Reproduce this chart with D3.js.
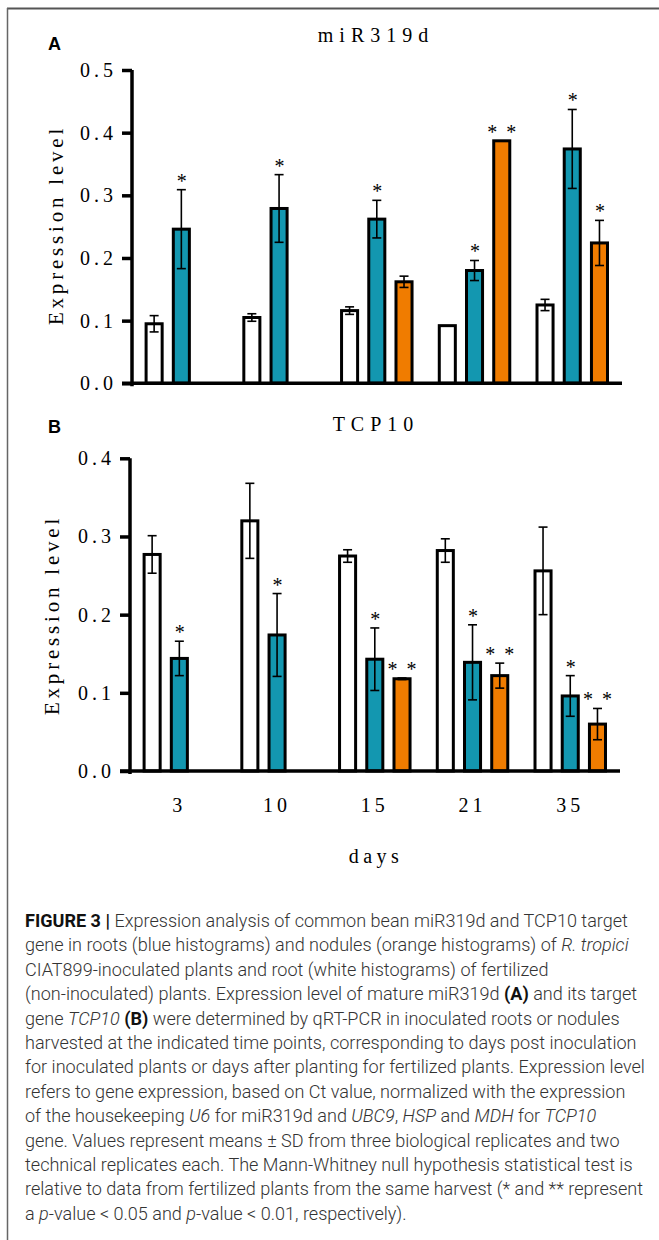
<!DOCTYPE html>
<html>
<head>
<meta charset="utf-8">
<script src="https://cdn.jsdelivr.net/npm/d3@7"></script>
<style>
  body { margin: 0; background: #fff; }
  svg { display: block; }
</style>
</head>
<body>
<div id="figure"></div>
<script>
// Values (means and SD per harvest day)

const days = ['3', '10', '15', '21', '35'];
const groups = ['fertilized', 'root', 'nodule'];

// panel A: miR319d
const mirFert = [0.095, 0.105, 0.116, 0.092, 0.125];
const mirFertSd = [0.013, 0.006, 0.006, 0, 0.009];
const mirRoot = [0.246, 0.279, 0.262, 0.180, 0.374];
const mirRootSd = [0.063, 0.054, 0.030, 0.016, 0.063];
const mirNod = [null, null, 0.162, 0.387, 0.224];
const mirNodSd = [null, null, 0.009, 0, 0.036];
const mirRootStars = ['*', '*', '*', '*', '*'];
const mirNodStars = ['', '', '', '* *', '*'];
const mirTicks = [0, 0.1, 0.2, 0.3, 0.4, 0.5];

// panel B: TCP10
const tcpFert = [0.277, 0.320, 0.275, 0.282, 0.256];
const tcpFertSd = [0.024, 0.048, 0.008, 0.015, 0.056];
const tcpRoot = [0.144, 0.174, 0.143, 0.139, 0.096];
const tcpRootSd = [0.022, 0.053, 0.040, 0.048, 0.026];
const tcpNod = [null, null, 0.118, 0.122, 0.060];
const tcpNodSd = [null, null, 0.001, 0.016, 0.020];
const tcpRootStars = ['*', '*', '*', '*', '*'];
const tcpNodStars = ['', '', '* *', '* *', '* *'];
const tcpTicks = [0, 0.1, 0.2, 0.3, 0.4];

const colors = { fertilized: '#ffffff', root: '#1397b0', nodule: '#f07c00' };
const serif = '"Liberation Serif", "Times New Roman", serif';

let width = 659;
let height = 1240;

const svg = d3.select('#figure')
  .append('svg')
  .attr('width', width)
  .attr('height', height)

// frame lines (top and left only, like the cropped page)
svg.append('line').attr('x1', 7).attr('x2', width).attr('y1', 8.5).attr('y2', 8.5)
  .attr('stroke', '#555').attr('stroke-width', 2)
svg.append('line').attr('x1', 7.5).attr('x2', 7.5).attr('y1', 8).attr('y2', height)
  .attr('stroke', '#666').attr('stroke-width', 1.5)

function rows(fert, fertSd, root, rootSd, nod, nodSd, rootStars, nodStars) {
  const out = [];
  days.forEach((d, i) => {
    out.push({ day: d, group: 'fertilized', value: fert[i], sd: fertSd[i], star: '' });
    out.push({ day: d, group: 'root', value: root[i], sd: rootSd[i], star: rootStars[i] });
    if (nod[i] !== null) {
      out.push({ day: d, group: 'nodule', value: nod[i], sd: nodSd[i], star: nodStars[i] });
    }
  });
  return out;
}

function drawPanel(opt) {
  const g = svg.append('g');

  const y = d3.scaleLinear()
    .domain([0, opt.ticks[opt.ticks.length - 1]])
    .range([opt.y0, opt.yTop])

  const x = d3.scaleBand()
    .domain(days)
    .range([opt.x0, opt.x1])
    .paddingInner(0.248)
    .paddingOuter(0)

  const xIn = d3.scaleBand()
    .domain(groups)
    .range([0, x.bandwidth()])
    .paddingInner(0.3)

  const bw = xIn.bandwidth();
  const cx = (d) => x(d.day) + xIn(d.group) + bw / 2;

  // panel letter and title
  g.append('text')
    .attr('x', 48).attr('y', opt.letterY)
    .style('font-family', '"Liberation Sans", Arial, sans-serif')
    .style('font-weight', 'bold').style('font-size', '18px')
    .text(opt.letter)

  g.append('text')
    .attr('x', 376).attr('y', opt.titleY)
    .attr('text-anchor', 'middle')
    .style('font-family', serif).style('font-size', '20px')
    .style('letter-spacing', '6px')
    .text(opt.title)

  // bars
  g.selectAll('rect.bar')
    .data(opt.data)
    .enter()
    .append('rect')
    .attr('class', 'bar')
    .attr('x', (d) => x(d.day) + xIn(d.group) + 1.5)
    .attr('width', bw - 3)
    .attr('y', (d) => y(d.value))
    .attr('height', (d) => y(0) - y(d.value))
    .attr('fill', (d) => colors[d.group])
    .attr('stroke', '#000')
    .attr('stroke-width', 3)

  // error bars (SD)
  const err = opt.data.filter((d) => d.sd > 0);
  g.selectAll('line.err')
    .data(err)
    .enter()
    .append('line')
    .attr('class', 'err')
    .attr('x1', cx).attr('x2', cx)
    .attr('y1', (d) => y(d.value - d.sd))
    .attr('y2', (d) => y(d.value + d.sd))
    .attr('stroke', '#000').attr('stroke-width', 1.6)

  ;[1, -1].forEach((sign) => {
    g.selectAll('line.cap' + sign)
      .data(err)
      .enter()
      .append('line')
      .attr('x1', (d) => cx(d) - 4.5).attr('x2', (d) => cx(d) + 4.5)
      .attr('y1', (d) => y(d.value + sign * d.sd))
      .attr('y2', (d) => y(d.value + sign * d.sd))
      .attr('stroke', '#000').attr('stroke-width', 1.6)
  })

  // significance stars
  g.selectAll('text.star')
    .data(opt.data.filter((d) => d.star))
    .enter()
    .append('text')
    .attr('class', 'star')
    .attr('x', (d) => cx(d) + (d.star.length > 1 ? 1 : 0.5))
    .attr('y', (d) => y(d.value + (d.sd || 0)) - 2)
    .attr('text-anchor', 'middle')
    .style('font-family', serif).style('font-size', '20px')
    .style('letter-spacing', (d) => d.star.length > 1 ? '2px' : '0px')
    .text((d) => d.star)

  // y axis
  const yAxis = d3.axisLeft(y)
    .tickValues(opt.ticks)
    .tickFormat(d3.format('.1f'))
    .tickSize(10)
    .tickSizeOuter(0)
    .tickPadding(5)

  const ya = g.append('g')
    .attr('transform', 'translate(' + opt.axisX + ',0)')
    .call(yAxis)

  ya.select('.domain').attr('stroke-width', 3.5).attr('d', 'M0,' + (y(0) + 3) + 'V' + y.range()[1])
  ya.selectAll('.tick line').attr('stroke-width', 3.5)
  ya.selectAll('.tick text')
    .style('font-family', serif).style('font-size', '20px')
    .style('letter-spacing', '4px')
    .attr('fill', '#000')

  // x baseline
  g.append('line')
    .attr('x1', opt.axisX - 10).attr('x2', opt.xEnd)
    .attr('y1', y(0)).attr('y2', y(0))
    .attr('stroke', '#000').attr('stroke-width', 3.5)

  // y label
  g.append('text')
    .attr('transform', 'translate(' + opt.labelX + ',' + opt.labelY + ') rotate(-90)')
    .attr('text-anchor', 'middle')
    .style('font-family', serif).style('font-size', '21px')
    .style('letter-spacing', '3.8px')
    .text('Expression level')

  if (opt.dayLabels) {
    g.selectAll('text.day')
      .data(days)
      .enter()
      .append('text')
      .attr('class', 'day')
      .attr('x', (d) => x(d) + xIn('root') + bw / 2)
      .attr('y', 812)
      .attr('text-anchor', 'middle')
      .style('font-family', serif).style('font-size', '20px')
      .style('letter-spacing', '4px')
      .text((d) => d)

    g.append('text')
      .attr('x', 376).attr('y', 863)
      .attr('text-anchor', 'middle')
      .style('font-family', serif).style('font-size', '20px')
      .style('letter-spacing', '4.5px')
      .text('days')
  }
}

drawPanel({
  letter: 'A', letterY: 50, title: 'miR319d', titleY: 42,
  data: rows(mirFert, mirFertSd, mirRoot, mirRootSd, mirNod, mirNodSd, mirRootStars, mirNodStars),
  ticks: mirTicks, y0: 383.3, yTop: 70,
  x0: 144.6, x1: 609, axisX: 132, xEnd: 622,
  labelX: 63, labelY: 225, dayLabels: false
})

drawPanel({
  letter: 'B', letterY: 433, title: 'TCP10', titleY: 431,
  data: rows(tcpFert, tcpFertSd, tcpRoot, tcpRootSd, tcpNod, tcpNodSd, tcpRootStars, tcpNodStars),
  ticks: tcpTicks, y0: 771, yTop: 458.3,
  x0: 142.6, x1: 607, axisX: 130, xEnd: 620,
  labelX: 59, labelY: 615, dayLabels: true
})

// caption
const caption = [
  [['FIGURE 3 | ', 'b'], ['Expression analysis of common bean miR319d and TCP10 target']],
  [['gene in roots (blue histograms) and nodules (orange histograms) of '], ['R. tropici', 'i']],
  [['CIAT899-inoculated plants and root (white histograms) of fertilized']],
  [['(non-inoculated) plants. Expression level of mature miR319d '], ['(A)', 'b'], [' and its target']],
  [['gene '], ['TCP10', 'i'], [' '], ['(B)', 'b'], [' were determined by qRT-PCR in inoculated roots or nodules']],
  [['harvested at the indicated time points, corresponding to days post inoculation']],
  [['for inoculated plants or days after planting for fertilized plants. Expression level']],
  [['refers to gene expression, based on Ct value, normalized with the expression']],
  [['of the housekeeping '], ['U6', 'i'], [' for miR319d and '], ['UBC9', 'i'], [', '], ['HSP', 'i'], [' and '], ['MDH', 'i'], [' for '], ['TCP10', 'i']],
  [['gene. Values represent means \u00b1 SD from three biological replicates and two']],
  [['technical replicates each. The Mann-Whitney null hypothesis statistical test is']],
  [['relative to data from fertilized plants from the same harvest (* and ** represent']],
  [['a '], ['p', 'i'], ['-value < 0.05 and '], ['p', 'i'], ['-value < 0.01, respectively).']]
];

const cap = svg.append('g')
  .style('font-family', 'Roboto, "Liberation Sans", Arial, sans-serif')
  .style('font-weight', 300)
  .style('font-size', '16px')
  .attr('fill', '#333')

const capLines = cap.selectAll('text')
  .data(caption)
  .enter()
  .append('text')
  .attr('x', 25)
  .attr('y', (d, i) => 927 + i * 24.4)

capLines.selectAll('tspan')
  .data((d) => d)
  .enter()
  .append('tspan')
  .style('font-weight', (d) => d[1] === 'b' ? 700 : null)
  .style('font-style', (d) => d[1] === 'i' ? 'italic' : null)
  .attr('fill', (d) => d[1] === 'b' ? '#111' : null)
  .text((d) => d[0])

// fit the widest caption line into the page column
const widest = d3.max(capLines.nodes(), (n) => n.getComputedTextLength());
cap.style('font-size', (16 * 620 / widest) + 'px')
</script>
</body>
</html>
